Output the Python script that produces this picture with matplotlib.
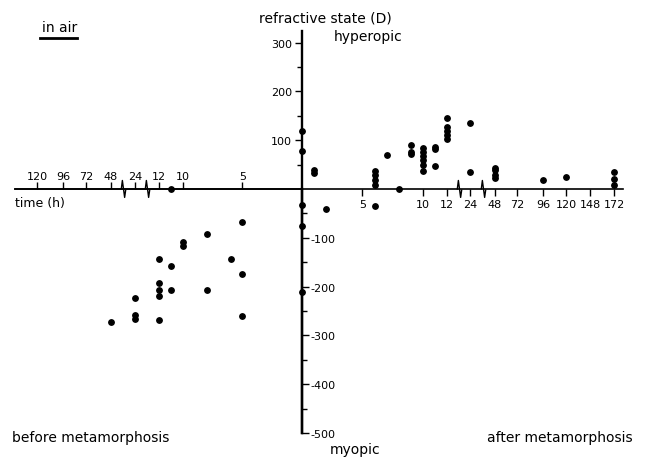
import numpy as np
import matplotlib
matplotlib.use("Agg")
import matplotlib.pyplot as plt
from matplotlib.path import Path
from matplotlib.lines import Line2D
from matplotlib.ticker import FixedLocator, NullLocator

# time in hours: negative = before metamorphosis, positive = after
# refractive state in dioptres (D)
BEFORE_H = [-5, -5, -5, -6, -8, -8, -10, -10, -11, -11, -11,
            -12, -12, -12, -12, -12, -24, -24, -24, -48]
BEFORE_D = [-68, -175, -260, -143, -92, -206, -109, -117, 0, -157, -206,
            -143, -193, -206, -220, -268, -223, -258, -266, -273]

ZERO_H = [0, 0, 0, 0, 0]
ZERO_D = [118, 78, -33, -75, -212]

AFTER_H = [1, 1, 2, 6, 6, 6, 6, 6, 7, 8, 9, 9, 9,
           10, 10, 10, 10, 10, 10, 11, 11, 11, 12, 12, 12, 12, 12,
           24, 24, 48, 48, 48, 48, 96, 120, 172, 172, 172]
AFTER_D = [38, 33, -41, 37, 28, 19, 9, -34, 70, 0, 90, 76, 71,
           84, 76, 68, 59, 50, 36, 86, 81, 48, 145, 127, 118, 110, 102,
           135, 34, 44, 38, 29, 22, 18, 25, 34, 20, 8]

AFTER_TICKS = [5, 10, 12, 24, 48, 72, 96, 120, 148, 172]
AFTER_TICK_LABELS = ["5", "10", "12", "24", "48", "72", "96", "120", "148", "172"]
BEFORE_TICKS = [-120, -96, -72, -48, -24, -12, -10, -5]
BEFORE_TICK_LABELS = ["120", "96", "72", "48", "24", "12", "10", "5"]
HYPER_TICKS = [100, 200, 300]
HYPER_TICK_LABELS = ["100", "200", "300"]
MYOPIC_TICKS = [-100, -200, -300, -400, -500]
MYOPIC_TICK_LABELS = ["-100", "-200", "-300", "-400", "-500"]
BREAKS_H = [-36, -18, 18, 36]

# broken time axis: hours -> drawing position
H_KNOTS = [-300, -120, -96, -72, -48, -24, -12, 0, 12, 24, 48, 72, 96, 120, 148, 172, 300]
P_KNOTS = [-460, -265, -239, -216, -191, -167, -143, 0, 145, 168, 193, 215, 241, 264, 288, 312, 440]


def fwd(h):
    return np.interp(h, H_KNOTS, P_KNOTS)


def inv(p):
    return np.interp(p, P_KNOTS, H_KNOTS)


W, H = 646, 460


def fpos(x, y):
    # pixel position -> figure fraction
    return x / W, 1 - y / H


plt.rcParams["font.family"] = "DejaVu Sans"

fig = plt.figure(figsize=(W / 100, H / 100), dpi=100)
ax = fig.add_axes([0, 0, 1, 1])
ax2 = fig.add_axes([0, 0, 1, 1])

for a in (ax, ax2):
    a.set_xscale("function", functions=(fwd, inv))
    a.set_xlim(float(inv(-302)), float(inv(344)))
    a.set_ylim(-553.3, 389.3)
    a.xaxis.set_minor_locator(NullLocator())
ax2.patch.set_visible(False)

# main axes: right half of time axis (ticks down), upper half of D axis (ticks left)
ax.spines["top"].set_visible(False)
ax.spines["right"].set_visible(False)
ax.spines["bottom"].set_position(("data", 0))
ax.spines["bottom"].set_bounds(-140, 181)
ax.spines["bottom"].set_linewidth(1.2)
ax.spines["left"].set_position(("data", 0))
ax.spines["left"].set_bounds(-500, 324)
ax.spines["left"].set_linewidth(1.7)
ax.set_xticks(AFTER_TICKS)
ax.set_xticklabels(AFTER_TICK_LABELS)
ax.set_yticks(HYPER_TICKS)
ax.set_yticklabels(HYPER_TICK_LABELS)
ax.yaxis.set_minor_locator(FixedLocator([50, 150, 250]))
ax.tick_params(which="major", length=5, width=1, labelsize=8, pad=2)
ax.tick_params(which="minor", length=3.5, width=1)

# overlay axes: left half of time axis (ticks up), lower half of D axis (ticks right)
ax2.spines["bottom"].set_visible(False)
ax2.spines["left"].set_visible(False)
ax2.spines["top"].set_position(("data", 0))
ax2.spines["top"].set_bounds(-140, 0)
ax2.spines["top"].set_linewidth(1.2)
ax2.spines["right"].set_position(("data", 0))
ax2.spines["right"].set_bounds(-500, 0)
ax2.spines["right"].set_linewidth(1.7)
ax2.xaxis.set_ticks_position("top")
ax2.yaxis.set_ticks_position("right")
ax2.set_xticks(BEFORE_TICKS)
ax2.set_xticklabels(BEFORE_TICK_LABELS)
ax2.set_yticks(MYOPIC_TICKS)
ax2.set_yticklabels(MYOPIC_TICK_LABELS)
ax2.yaxis.set_minor_locator(FixedLocator([-50, -150, -250, -350, -450]))
ax2.tick_params(which="major", length=5, width=1, labelsize=8, pad=1)
ax2.tick_params(which="minor", length=3.5, width=1)

# data points
dot = dict(linestyle="none", marker="o", markersize=3.9, color="black", clip_on=False)
ax.plot(BEFORE_H, BEFORE_D, **dot)
ax.plot(ZERO_H, ZERO_D, **dot)
ax.plot(AFTER_H, AFTER_D, **dot)

# axis breaks
zigzag = Path([(-2, 0), (-1, 8), (1, -7), (2, 0)])
ax.plot(BREAKS_H, [0] * len(BREAKS_H), linestyle="none", marker=zigzag,
        markersize=13, markerfacecolor="none", markeredgecolor="black",
        markeredgewidth=1.0)

# labels
fig.text(*fpos(42, 28), "in air", fontsize=10, va="center", ha="left")
fig.add_artist(Line2D([40 / W, 77 / W], [1 - 39 / H, 1 - 39 / H],
                      color="black", linewidth=2))
fig.text(*fpos(259, 18), "refractive state (D)", fontsize=10, va="center", ha="left")
fig.text(*fpos(334, 37), "hyperopic", fontsize=10, va="center", ha="left")
fig.text(*fpos(15, 203), "time (h)", fontsize=9, va="center", ha="left")
fig.text(*fpos(12, 438), "before metamorphosis", fontsize=10, va="center", ha="left")
fig.text(*fpos(330, 450), "myopic", fontsize=10, va="center", ha="left")
fig.text(*fpos(487, 438), "after metamorphosis", fontsize=10, va="center", ha="left")

fig.savefig("out.png", dpi=100)
plt.close(fig)
